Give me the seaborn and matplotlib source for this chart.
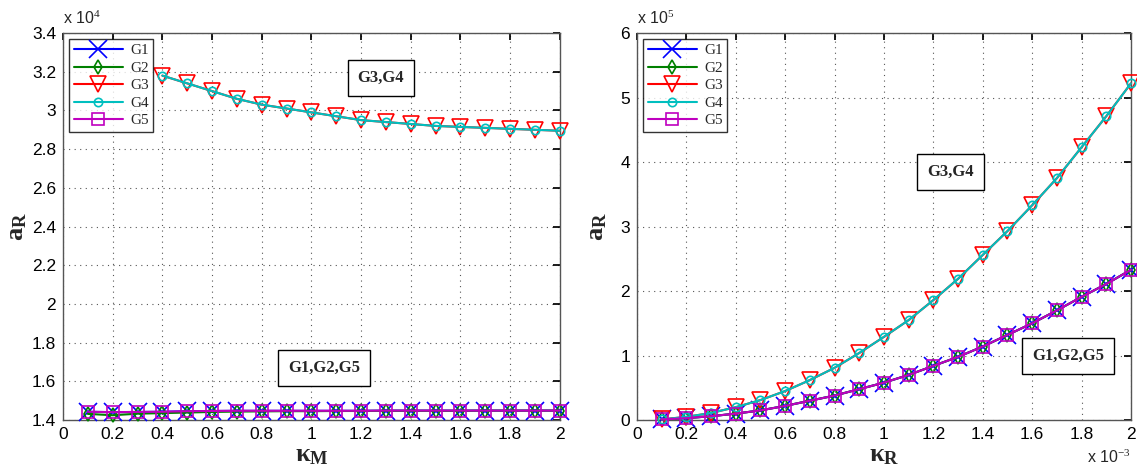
import numpy as np
import pandas as pd
import seaborn as sns
import matplotlib.pyplot as plt

# ----------------------
# DATA
# ----------------------
kappa = [0.1, 0.2, 0.3, 0.4, 0.5, 0.6, 0.7, 0.8, 0.9, 1.0,
         1.1, 1.2, 1.3, 1.4, 1.5, 1.6, 1.7, 1.8, 1.9, 2.0]

# left panel, a_R in units of 1e4, versus kappa_M
left_g1 = [1.443, 1.441, 1.442, 1.443, 1.446, 1.447, 1.448, 1.448, 1.448, 1.448,
           1.448, 1.448, 1.449, 1.449, 1.449, 1.449, 1.449, 1.449, 1.449, 1.449]
left_g2 = [1.432, 1.425, 1.433, 1.436, 1.439, 1.442, 1.444, 1.445, 1.446, 1.446,
           1.447, 1.447, 1.448, 1.448, 1.448, 1.448, 1.449, 1.449, 1.449, 1.449]
left_g5 = left_g1
left_g34_x = kappa[3:]
left_g3 = [3.18, 3.14, 3.10, 3.06, 3.03, 3.01, 2.99, 2.97, 2.95, 2.94,
           2.93, 2.92, 2.915, 2.91, 2.905, 2.90, 2.895]
left_g4 = left_g3

# right panel, a_R in units of 1e5, versus kappa_R (units of 1e-3)
right_g3 = [0.01, 0.05, 0.11, 0.20, 0.31, 0.45, 0.62, 0.81, 1.04, 1.29,
            1.55, 1.86, 2.19, 2.56, 2.93, 3.33, 3.75, 4.23, 4.71, 5.22]
right_g4 = right_g3
right_g1 = [0.01, 0.03, 0.06, 0.10, 0.15, 0.22, 0.30, 0.38, 0.48, 0.58,
            0.70, 0.84, 0.98, 1.14, 1.32, 1.50, 1.70, 1.91, 2.11, 2.33]
right_g2 = right_g1
right_g5 = right_g1

series = ['G1', 'G2', 'G3', 'G4', 'G5']
colors = {'G1': '#0000ff', 'G2': '#008000', 'G3': '#ff0000', 'G4': '#00bfbf', 'G5': '#bf00bf'}
markers = {'G1': 'x', 'G2': 'd', 'G3': 'v', 'G4': 'o', 'G5': 's'}
msizes = {'G1': 13, 'G2': 7, 'G3': 12, 'G4': 6, 'G5': 9}

left_df = pd.concat([
    pd.DataFrame({'x': kappa, 'y': left_g1, 'g': 'G1'}),
    pd.DataFrame({'x': kappa, 'y': left_g2, 'g': 'G2'}),
    pd.DataFrame({'x': left_g34_x, 'y': left_g3, 'g': 'G3'}),
    pd.DataFrame({'x': left_g34_x, 'y': left_g4, 'g': 'G4'}),
    pd.DataFrame({'x': kappa, 'y': left_g5, 'g': 'G5'}),
])
right_df = pd.concat([
    pd.DataFrame({'x': kappa, 'y': v, 'g': g})
    for g, v in zip(series, [right_g1, right_g2, right_g3, right_g4, right_g5])
])

# ----------------------
# STYLE
# ----------------------
sns.set_theme(style='white')
plt.rcParams['font.family'] = ['Liberation Sans', 'DejaVu Sans']
plt.rcParams['mathtext.fontset'] = 'custom'
plt.rcParams['mathtext.rm'] = 'Liberation Serif'
plt.rcParams['mathtext.it'] = 'Liberation Serif:italic'
plt.rcParams['mathtext.bf'] = 'Liberation Serif:bold'

fig = plt.figure(figsize=(11.37, 4.72), dpi=100)
ax1 = fig.add_axes([0.0554, 0.110, 0.437, 0.820])
ax2 = fig.add_axes([0.5602, 0.110, 0.4345, 0.820])


def draw(ax, df):
    for g in series:
        sub = df[df.g == g]
        sns.lineplot(data=sub, x='x', y='y', ax=ax, color=colors[g], label=g,
                     marker=markers[g], markersize=msizes[g], linewidth=1.5,
                     markerfacecolor='none', markeredgecolor=colors[g],
                     markeredgewidth=1.2, clip_on=False, zorder=3, legend=True)
    ax.grid(True, linestyle=(0, (1, 4)), color='#555555', linewidth=0.8)
    ax.tick_params(direction='in', length=5, top=True, right=True,
                   labelsize=12.5, colors='black', pad=5)
    for s in ax.spines.values():
        s.set_color('#555555')
        s.set_linewidth(1.0)
    ax.set_xlim(0, 2)
    ax.set_xticks(np.arange(0, 2.01, 0.2))
    ax.set_xticklabels(['0', '0.2', '0.4', '0.6', '0.8', '1', '1.2', '1.4', '1.6', '1.8', '2'])
    leg = ax.legend(loc='upper left', frameon=True, fancybox=False, handlelength=3.2,
                    prop={'family': 'Liberation Serif', 'size': 11},
                    borderpad=0.3, labelspacing=0.25, handletextpad=0.5,
                    borderaxespad=0.4)
    leg.get_frame().set_edgecolor('black')
    leg.get_frame().set_linewidth(1.0)
    leg.set_zorder(5)


draw(ax1, left_df)
ax1.set_ylim(1.4, 3.4)
ax1.set_yticks(np.arange(1.4, 3.41, 0.2))
ax1.set_yticklabels(['1.4', '1.6', '1.8', '2', '2.2', '2.4', '2.6', '2.8', '3', '3.2', '3.4'])
ax1.set_xlabel(r'$\mathbf{\kappa_M}$', fontsize=19, labelpad=1)
ax1.set_ylabel(r'$\mathbf{a_R}$', fontsize=19, labelpad=2)
ax1.text(0.0, 1.015, r'x 10$^4$', transform=ax1.transAxes, fontsize=11.5, ha='left', va='bottom')

draw(ax2, right_df)
ax2.set_ylim(0, 6)
ax2.set_yticks(range(0, 7))
ax2.set_xlabel(r'$\mathbf{\kappa_R}$', fontsize=19, labelpad=1)
ax2.set_ylabel(r'$\mathbf{a_R}$', fontsize=19, labelpad=8)
ax2.text(0.0, 1.015, r'x 10$^5$', transform=ax2.transAxes, fontsize=11.5, ha='left', va='bottom')
ax2.text(1.0, -0.075, r'x 10$^{-3}$', transform=ax2.transAxes, fontsize=11.5, ha='right', va='top')

box = dict(boxstyle='square,pad=0.6', facecolor='white', edgecolor='black', linewidth=1.0)
txt = dict(fontsize=12, fontweight='bold', family='Liberation Serif', ha='center', va='center',
           bbox=box, zorder=6)
ax1.text(1.28, 3.17, 'G3,G4', **txt)
ax1.text(1.05, 1.67, 'G1,G2,G5', **txt)
ax2.text(1.27, 3.85, 'G3,G4', **txt)
ax2.text(1.745, 1.0, 'G1,G2,G5', **txt)

fig.savefig('out.png', dpi=100)
